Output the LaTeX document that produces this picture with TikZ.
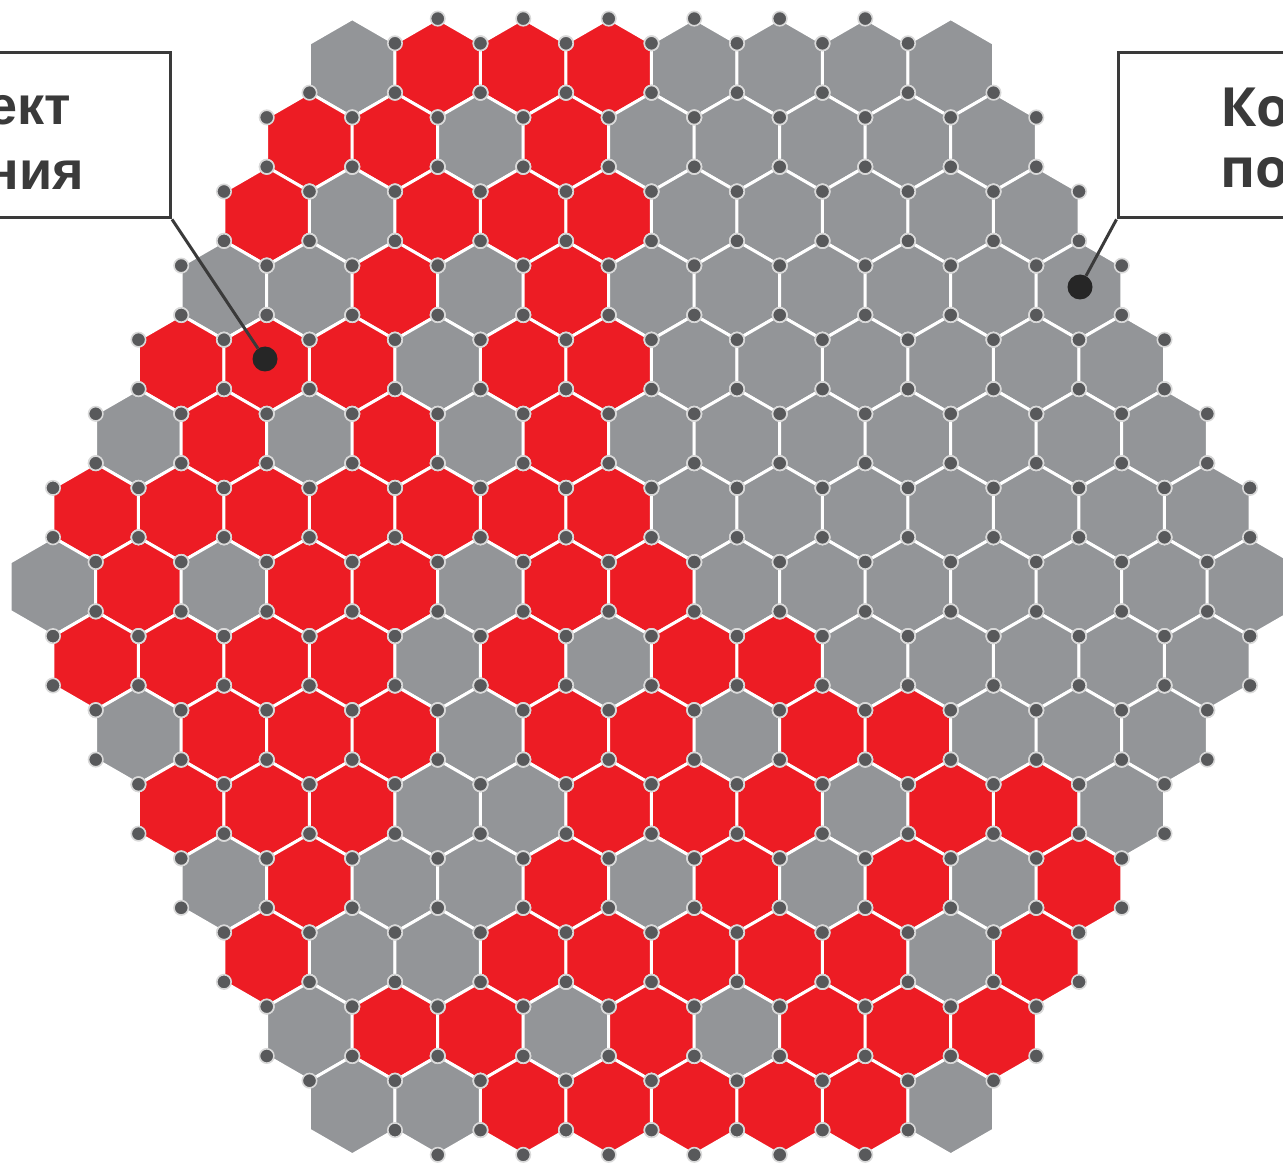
\documentclass[tikz,border=0pt]{standalone}
\usepackage{fontspec}
\setmainfont{Liberation Sans}
\newfontfamily\opensans{Open Sans}
\usepackage{tikz}
\definecolor{cellR}{HTML}{ED1C24}
\definecolor{cellG}{HTML}{939598}
\definecolor{pindark}{HTML}{58595B}
\definecolor{boxline}{HTML}{3A3A3A}

% раскладка ячеек по рядам (R -- красная, G -- серая)
\def\cellrows{0/{G,R,R,R,G,G,G,G},
  1/{R,R,G,R,G,G,G,G,G},
  2/{R,G,R,R,R,G,G,G,G,G},
  3/{G,G,R,G,R,G,G,G,G,G,G},
  4/{R,R,R,G,R,R,G,G,G,G,G,G},
  5/{G,R,G,R,G,R,G,G,G,G,G,G,G},
  6/{R,R,R,R,R,R,R,G,G,G,G,G,G,G},
  7/{G,R,G,R,R,G,R,R,G,G,G,G,G,G,G},
  8/{R,R,R,R,G,R,G,R,R,G,G,G,G,G},
  9/{G,R,R,R,G,R,R,G,R,R,G,G,G},
  10/{R,R,R,G,G,R,R,R,G,R,R,G},
  11/{G,R,G,G,R,G,R,G,R,G,R},
  12/{R,G,G,R,R,R,R,R,G,R},
  13/{G,R,R,G,R,G,R,R,R},
  14/{G,G,R,R,R,R,R,G}}
\def\hexR{49.4}

\begin{document}
\begin{tikzpicture}[
    x=1pt, y=-1pt,
    cell/.style={draw=white, line width=3pt, line join=miter},
    pin/.style={fill=pindark, draw=gray!30, line width=1.6pt},
    callout/.style={draw=boxline, line width=3pt, fill=white},
    lbl/.style={font=\fontsize{54}{60}\selectfont\bfseries, text=boxline, inner sep=0pt},
    marker/.style={circle, fill=black!85, minimum size=25pt, inner sep=0pt},
    pointer/.style={draw=boxline, line width=3pt}
]
\useasboundingbox (0,0) rectangle (1283,1166);
\clip (0,0) rectangle (1283,1166);

% ячейки
\foreach \r/\cols in \cellrows {
  \pgfmathsetmacro\xo{53+42.75*abs(\r-7)}
  \pgfmathsetmacro\cy{68+74.1*\r}
  \foreach \c [count=\i from 0] in \cols {
    \pgfmathsetmacro\cx{\xo+85.5*\i}
    \filldraw[cell, fill=cell\c] (\cx,\cy) +(90:\hexR) -- +(150:\hexR) -- +(210:\hexR)
      -- +(270:\hexR) -- +(330:\hexR) -- +(30:\hexR) -- cycle;
  }
}

% точки в узлах решетки (без внешних углов)
\foreach \r/\cols in \cellrows {
  \pgfmathsetmacro\xo{53+42.75*abs(\r-7)}
  \pgfmathsetmacro\cy{68+74.1*\r}
  \pgfmathtruncatemacro\last{14-abs(\r-7)}
  \foreach \c [count=\i from 0] in \cols {
    \pgfmathsetmacro\cx{\xo+85.5*\i}
    \pgfmathtruncatemacro\corner{and(or(\r==0,or(\r==7,\r==14)),or(\i==0,\i==\last))}
    \ifnum\corner=0
      \foreach \dx/\dy in {0/-49.4, 42.78/-24.7, 42.78/24.7, 0/49.4, -42.78/24.7, -42.78/-24.7}
        \filldraw[pin] (\cx,\cy) ++(\dx,\dy) circle[radius=7.2];
    \fi
  }
}

% выноски
\node[callout, minimum width=400pt, minimum height=165pt] (boxL) at (-29.5,135.4) {};
\node[callout, minimum width=400pt, minimum height=165pt] (boxR) at (1318,135.4) {};

\node[lbl, anchor=base east] (txtL1) at (71,125) {ект};
\node[lbl, anchor=base east] (txtL2) at (84,190) {ния};
\node[lbl, font=\opensans\fontsize{54}{60}\selectfont\bfseries, anchor=base west] (txtR1) at (1220,127) {Ко};
\node[lbl, font=\opensans\fontsize{54}{60}\selectfont\bfseries, anchor=base west] (txtR2) at (1220,188) {по};

\node[marker] (markL) at (265,359) {};
\node[marker] (markR) at (1080,287) {};

\draw[pointer] (boxL.south east) -- (markL);
\draw[pointer] (boxR.south west) -- (markR);

\end{tikzpicture}
\end{document}
